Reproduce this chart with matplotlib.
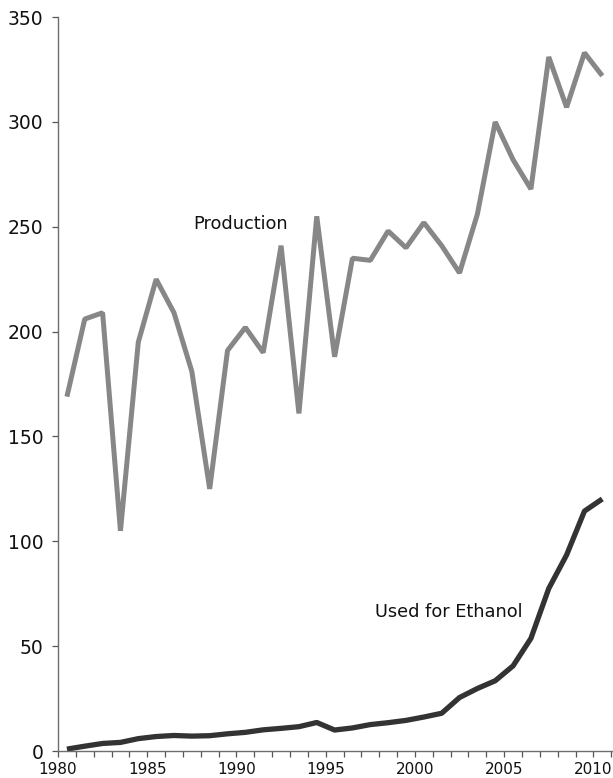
import matplotlib
matplotlib.use("Agg")
import matplotlib.pyplot as plt
from matplotlib.ticker import MultipleLocator

years = list(range(1980, 2011))
production = [169, 206, 209, 105, 195, 225, 209, 181, 125, 191, 202, 190, 241, 161,
              255, 188, 235, 234, 248, 240, 252, 241, 228, 256, 300, 282, 268, 331,
              307, 333, 322]
ethanol = [0.9, 2.3, 3.6, 4.1, 5.9, 6.9, 7.4, 7.1, 7.3, 8.2, 8.9, 10.1, 10.8, 11.6,
           13.6, 10.0, 11.0, 12.6, 13.5, 14.6, 16.2, 18.0, 25.5, 29.8, 33.5, 40.6,
           53.7, 77.5, 93.5, 114.4, 120.2]
x_pos = [y + 0.5 for y in years]  # values plotted at mid-year

fig = plt.figure(figsize=(6.13, 7.78), dpi=100)
ax = fig.add_axes([0.0946, 0.0347, 1 - 0.0946, 0.978 - 0.0347])

ax.plot(x_pos, production, color="#878787", lw=3.6,
        solid_joinstyle="bevel", solid_capstyle="butt")
ax.plot(x_pos, ethanol, color="#333333", lw=3.8,
        solid_joinstyle="bevel", solid_capstyle="butt")

ax.text(1990.25, 251.5, "Production", fontsize=12.8, ha="center", va="center",
        color="#111111")
ax.text(2001.9, 66.3, "Used for Ethanol", fontsize=12.8, ha="center", va="center",
        color="#111111")

ax.set_xlim(1980, 2011.1)
ax.set_ylim(0, 350)
ax.xaxis.set_major_locator(MultipleLocator(5))
ax.xaxis.set_minor_locator(MultipleLocator(1))
ax.yaxis.set_major_locator(MultipleLocator(50))

for s in ["top", "right"]:
    ax.spines[s].set_visible(False)
for s in ["left", "bottom"]:
    ax.spines[s].set_color("#6e6e6e")
    ax.spines[s].set_linewidth(1.0)

ax.tick_params(axis="y", which="major", length=4.3, width=0.9, color="#555555",
               labelsize=13.5, pad=6, labelcolor="#111111")
ax.tick_params(axis="x", which="both", length=4, width=0.9, color="#555555",
               labelsize=11, pad=4, labelcolor="#111111")

fig.savefig("out.png", dpi=100)
